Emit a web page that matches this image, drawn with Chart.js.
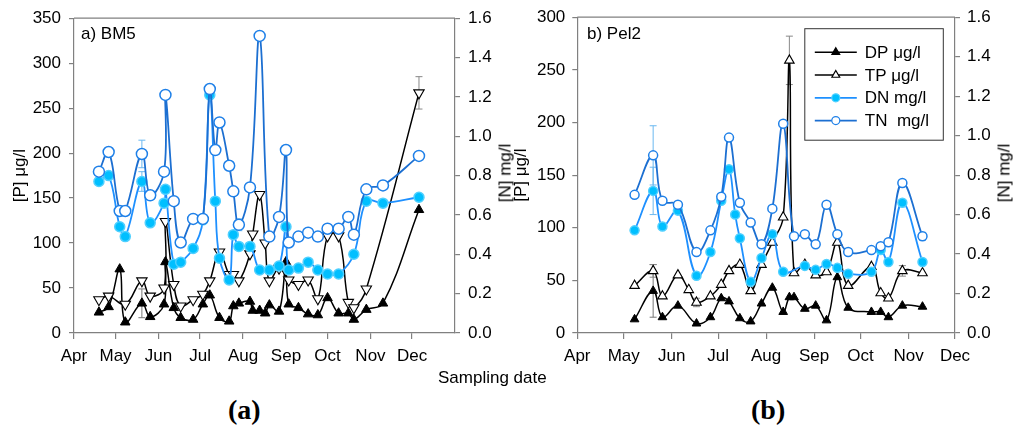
<!DOCTYPE html>
<html lang="en">
<head>
<meta charset="UTF-8">
<title>BM5 / Pel2 nutrients</title>
<script src="https://cdn.jsdelivr.net/npm/chart.js"></script>
<style>
  body { margin: 0; background: #fff; width: 1024px; height: 434px; position: relative; overflow: hidden;
         font-family: "Liberation Sans", Arial, sans-serif; }
  .box { position: absolute; top: 0; height: 372px; }
  #boxA { left: 0; width: 530px; }
  #boxB { left: 495px; width: 529px; }
  .lbl { position: absolute; font-size: 17px; line-height: 1; color: #000; white-space: nowrap; }
  .vt { position: absolute; font-size: 17px; line-height: 1; color: #000; white-space: nowrap;
        transform: translate(-50%, -50%) rotate(-90deg); }
  .cap { position: absolute; font-family: "Liberation Serif", "Times New Roman", serif; font-weight: bold;
         font-size: 28px; line-height: 1; color: #000; }
</style>
</head>
<body>
<div id="boxA" class="box"><canvas id="chartA"></canvas></div>
<div id="boxB" class="box"><canvas id="chartB"></canvas></div>
<div class="lbl" style="left:81px;top:25px">a) BM5</div>
<div class="lbl" style="left:587px;top:25px">b) Pel2</div>
<div class="vt" style="left:505px;top:173px">[N] mg/l</div>
<div class="vt" style="left:1004px;top:173px">[N] mg/l</div>
<div class="lbl" style="left:438px;top:369px">Sampling date</div>
<div class="cap" style="left:228px;top:396px">(a)</div>
<div class="cap" style="left:751px;top:396px">(b)</div>

<script>
  // month ticks (days after 1 April)
  const monthLabels = ["Apr", "May", "Jun", "Jul", "Aug", "Sep", "Oct", "Nov", "Dec"];
  const monthStarts = [0, 30, 61, 91, 122, 153, 183, 214, 244];

  // a) BM5
  const bmNDates = ["04-19", "04-26", "05-04", "05-08", "05-20", "05-26", "06-05", "06-06", "06-12", "06-17",
    "06-26", "07-03", "07-08", "07-12", "07-15", "07-22", "07-25", "07-29", "08-06", "08-13", "08-20", "08-27",
    "09-01", "09-03", "09-10", "09-17", "09-24", "10-01", "10-09", "10-16", "10-20", "10-29", "11-10", "12-06"];
  const bmTN = [0.82, 0.92, 0.62, 0.62, 0.91, 0.70, 0.82, 1.21, 0.67, 0.46, 0.58, 0.58, 1.24, 0.93, 1.07, 0.85,
    0.72, 0.55, 0.74, 1.51, 0.49, 0.59, 0.93, 0.46, 0.49, 0.51, 0.49, 0.53, 0.53, 0.59, 0.50, 0.73, 0.75, 0.90];
  const bmDN = [0.77, 0.80, 0.54, 0.49, 0.77, 0.56, 0.66, 0.73, 0.35, 0.36, 0.43, 0.575, 1.21, 0.67, 0.38, 0.27,
    0.50, 0.44, 0.44, 0.32, 0.32, 0.34, 0.54, 0.32, 0.33, 0.36, 0.32, 0.30, 0.30, null, 0.40, 0.67, 0.66, 0.69];
  const bmPDates = ["04-19", "04-26", "05-04", "05-08", "05-20", "05-26", "06-05", "06-06", "06-12", "06-17",
    "06-26", "07-03", "07-08", "07-15", "07-22", "07-25", "07-29", "08-06", "08-08", "08-13", "08-17", "08-20",
    "08-27", "09-01", "09-03", "09-10", "09-17", "09-24", "10-01", "10-09", "10-16", "10-20", "10-29", "11-10", "12-06"];
  const bmTP = [37, 41, null, 32, 58, 41, 50, 124, 54, 30, 37, 43, 58, 90, 65, 65, 58, 88, 110, 154, 100, 58,
    72, null, 59, 54, 59, 38, 108, 108, 34, 28, 49, null, 267];
  const bmDP = [23, 29, 71, 12, 33, 18, 32, 79, 28, 17, 15, 32, 42, 17, 13, 30, 33, 35, 25, 25, 22, 31,
    24, 79, 32, 28, 21, 20, 39, 22, 22, 15, 26, 33, 137];
  const bmTNErr = { "04-19": 0.02, "04-26": 0.02, "05-20": 0.07, "07-29": 0.03 };
  const bmDNErr = { "05-20": 0.05 };
  const bmTPErr = { "12-06": 18 };
  const bmDPErr = { "05-20": 16 };

  // b) Pel2
  const pelNDates = ["05-08", "05-20", "05-26", "06-05", "06-17", "06-26", "07-03", "07-08", "07-12", "07-15",
    "07-22", "07-29", "08-05", "08-12", "08-19", "08-26", "09-02", "09-09", "09-16", "09-23", "10-08", "10-14",
    "10-19", "10-28", "11-10"];
  const pelTN = [0.70, 0.90, 0.67, 0.65, 0.41, 0.52, 0.69, 0.99, null, 0.66, 0.56, 0.45, 0.63, 1.06, 0.49, 0.50,
    0.45, 0.65, 0.50, 0.41, 0.42, 0.44, 0.46, 0.76, 0.49];
  const pelDN = [0.52, 0.72, 0.54, 0.62, 0.29, 0.41, 0.67, 0.83, 0.60, 0.48, 0.26, 0.38, 0.50, 0.31, null, 0.34,
    0.32, 0.35, 0.33, 0.30, 0.31, 0.42, 0.36, 0.66, 0.36];
  const pelPDates = ["05-08", "05-20", "05-26", "06-05", "06-12", "06-17", "06-26", "07-03", "07-08", "07-15",
    "07-22", "07-29", "08-05", "08-12", "08-16", "08-19", "08-26", "09-02", "09-09", "09-16", "09-23", "10-08",
    "10-14", "10-19", "10-28", "11-10"];
  const pelTP = [45, 59, 35, 55, 41, 29, 35, 46, 59, 65, 40, 65, 86, 110, 259, 57, 65, 55, 58, 86, 45, 63,
    38, 33, 59, 57];
  const pelDP = [13, 40, 15, 26, null, 9, 15, 33, 30, 14, 11, 28, 43, 20, 34, 34, 23, 26, 12, 53, 24, 20,
    20, 15, 26, 25];
  const pelTNErr = { "05-20": 0.15, "11-10": 0.02 };
  const pelDNErr = { "05-20": 0.12 };
  const pelTPErr = { "05-20": 6, "06-17": 4, "08-16": 23, "10-28": 5 };
  const pelDPErr = { "05-20": 25 };

  const legendLabels = ["DP \u03bcg/l", "TP \u03bcg/l", "DN mg/l", "TN  mg/l"];

  const gray = "#808080";
  const tnBlue = "#1c6fd1";
  const dnBlue = "#1e90ff";
  Chart.defaults.font.family = '"Liberation Sans", Arial, sans-serif';
  Chart.defaults.font.size = 17;
  Chart.defaults.color = "#000";

  function dayOf(s) {
    const [m, d] = s.split("-").map(Number);
    return monthStarts[m - 4] + d - 1;
  }
  function pts(dates, vals) {
    return dates.map((d, i) => ({ x: dayOf(d), y: vals[i] }));
  }

  function series(kind, dates, vals, errs, big, down) {
    const base = { dates: dates, data: pts(dates, vals), errors: errs, spanGaps: true, tension: 0.4 };
    if (kind === "DP") return Object.assign(base, {
      label: legendLabels[0], yAxisID: "yP", order: 3, borderColor: "#000", borderWidth: 1.5,
      pointStyle: "triangle", pointRadius: big ? 5.5 : 5, pointBackgroundColor: "#000", pointBorderColor: "#000",
      pointBorderWidth: 1, errorColor: "#777" });
    if (kind === "TP") return Object.assign(base, {
      label: legendLabels[1], yAxisID: "yP", order: 2, borderColor: "#000", borderWidth: 1.5,
      pointStyle: "triangle", pointRotation: down ? 180 : 0, pointRadius: big ? 6 : 5.5,
      pointBackgroundColor: "#fff", pointBorderColor: "#000", pointBorderWidth: 1.1, errorColor: "#888" });
    if (kind === "DN") return Object.assign(base, {
      label: legendLabels[2], yAxisID: "yN", order: 1, borderColor: dnBlue, borderWidth: 1.8,
      pointStyle: "circle", pointRadius: big ? 5 : 4.5, pointBackgroundColor: "#00bfff",
      pointBorderColor: "#4fd0ff", pointBorderWidth: 1.5, errorColor: "#6ab8f0" });
    return Object.assign(base, {
      label: legendLabels[3], yAxisID: "yN", order: 0, borderColor: tnBlue, borderWidth: 1.8,
      pointStyle: "circle", pointRadius: big ? 5.5 : 4.5, pointBackgroundColor: "#fff",
      pointBorderColor: "#1f80e8", pointBorderWidth: 1.5, errorColor: "#6ab8f0" });
  }

  const frame = {
    id: "frame",
    afterDraw(chart) {
      const { ctx, chartArea: a } = chart;
      ctx.save();
      ctx.strokeStyle = gray;
      ctx.lineWidth = 1.2;
      ctx.beginPath();
      ctx.moveTo(a.left, a.top);
      ctx.lineTo(a.right, a.top);
      ctx.stroke();
      ctx.restore();
    }
  };

  const errorBars = {
    id: "errorBars",
    beforeDatasetsDraw(chart) {
      const ctx = chart.ctx;
      chart.data.datasets.forEach((ds, i) => {
        if (!ds.errors) return;
        const meta = chart.getDatasetMeta(i);
        const ys = chart.scales[ds.yAxisID];
        ctx.save();
        ctx.strokeStyle = ds.errorColor;
        ctx.lineWidth = 1;
        ds.data.forEach((p, j) => {
          const e = ds.errors[ds.dates[j]];
          if (!e || p.y == null) return;
          const x = meta.data[j].x;
          const t = ys.getPixelForValue(p.y + e);
          const b = ys.getPixelForValue(p.y - e);
          ctx.beginPath();
          ctx.moveTo(x, t); ctx.lineTo(x, b);
          ctx.moveTo(x - 3.5, t); ctx.lineTo(x + 3.5, t);
          ctx.moveTo(x - 3.5, b); ctx.lineTo(x + 3.5, b);
          ctx.stroke();
        });
        ctx.restore();
      });
    }
  };

  function marker(ctx, style, x, y, r, fill, stroke) {
    ctx.beginPath();
    if (style === "triangle") {
      ctx.moveTo(x, y - r);
      ctx.lineTo(x + r * 0.866, y + r / 2);
      ctx.lineTo(x - r * 0.866, y + r / 2);
      ctx.closePath();
    } else {
      ctx.arc(x, y, r, 0, Math.PI * 2);
    }
    ctx.fillStyle = fill;
    ctx.fill();
    ctx.lineWidth = 1.2;
    ctx.strokeStyle = stroke;
    ctx.stroke();
  }

  const boxLegend = {
    id: "boxLegend",
    afterDraw(chart, args, opts) {
      if (!opts.show) return;
      const { ctx, chartArea: a } = chart;
      const x0 = a.left + 227.5, y0 = a.top + 11.5, w = 138.5, h = 111.5;
      ctx.save();
      ctx.fillStyle = "#fff";
      ctx.fillRect(x0, y0, w, h);
      ctx.strokeStyle = "#333";
      ctx.lineWidth = 1;
      ctx.strokeRect(x0, y0, w, h);
      const sets = chart.data.datasets.slice().sort((p, q) => q.order - p.order);
      sets.forEach((ds, i) => {
        const y = y0 + 23.5 + i * 22.8;
        ctx.strokeStyle = ds.borderColor;
        ctx.lineWidth = ds.borderWidth;
        ctx.beginPath();
        ctx.moveTo(x0 + 10, y);
        ctx.lineTo(x0 + 52, y);
        ctx.stroke();
        marker(ctx, ds.pointStyle, x0 + 31, y, ds.pointStyle === "triangle" ? 4.5 : 4,
          ds.pointBackgroundColor, ds.pointBorderColor);
        ctx.fillStyle = "#000";
        ctx.font = '17px "Liberation Sans", Arial, sans-serif';
        ctx.textBaseline = "middle";
        ctx.fillText(ds.label, x0 + 60, y + 1);
      });
      ctx.restore();
    }
  };

  function yAxis(pos, max, step, width, title, titlePad, labPad, fmt) {
    return {
      type: "linear", position: pos, min: 0, max: max,
      afterFit: (s) => { s.width = width; },
      border: { color: gray, width: 1.2 },
      grid: { drawOnChartArea: false, color: gray, lineWidth: 1.2, tickLength: 5 },
      ticks: { stepSize: step, padding: labPad, callback: fmt },
      title: { display: !!title, text: title, padding: { top: titlePad, bottom: 0 } }
    };
  }

  function makeChart(id, datasets, xmax, yP, yN, legend) {
    return new Chart(document.getElementById(id), {
      type: "line",
      data: { datasets: datasets },
      options: {
        responsive: true,
        maintainAspectRatio: false,
        animation: false,
        layout: { padding: { top: 15, bottom: 0, left: 0, right: 0 } },
        plugins: { legend: { display: false }, tooltip: { enabled: false }, boxLegend: { show: legend } },
        scales: {
          x: {
            type: "linear", min: 0, max: xmax,
            afterBuildTicks: (ax) => { ax.ticks = monthStarts.map((v) => ({ value: v })); },
            afterFit: (s) => { s.height = 39; },
            border: { color: gray, width: 1.2 },
            grid: { drawOnChartArea: false, color: gray, lineWidth: 1.2, tickLength: 6 },
            ticks: { autoSkip: false, maxRotation: 0, padding: 7,
                     callback: (v) => monthLabels[monthStarts.indexOf(v)] }
          },
          yP: yP,
          yN: yN
        }
      },
      plugins: [frame, errorBars, boxLegend]
    });
  }

  // right-hand titles are HTML text above (they read bottom-to-top like the left ones)
  makeChart("chartA", [
      series("DP", bmPDates, bmDP, bmDPErr, true),
      series("TP", bmPDates, bmTP, bmTPErr, true, true),
      series("DN", bmNDates, bmDN, bmDNErr, true),
      series("TN", bmNDates, bmTN, bmTNErr, true)
    ], 275,
    yAxis("left", 350, 50, 74, "[P] \u03bcg/l", 10, 8, (v) => v),
    yAxis("right", 1.6, 0.2, 75, "", 0, 8, (v) => v.toFixed(1)),
    false);

  makeChart("chartB", [
      series("DP", pelPDates, pelDP, pelDPErr, false),
      series("TP", pelPDates, pelTP, pelTPErr, false, false),
      series("DN", pelNDates, pelDN, pelDNErr, false),
      series("TN", pelNDates, pelTN, pelTNErr, false)
    ], 244,
    yAxis("left", 300, 50, 82.3, "[P] \u03bcg/l", 16, 7, (v) => v),
    yAxis("right", 1.6, 0.2, 69, "", 0, 7, (v) => v.toFixed(1)),
    true);
</script>
</body>
</html>
